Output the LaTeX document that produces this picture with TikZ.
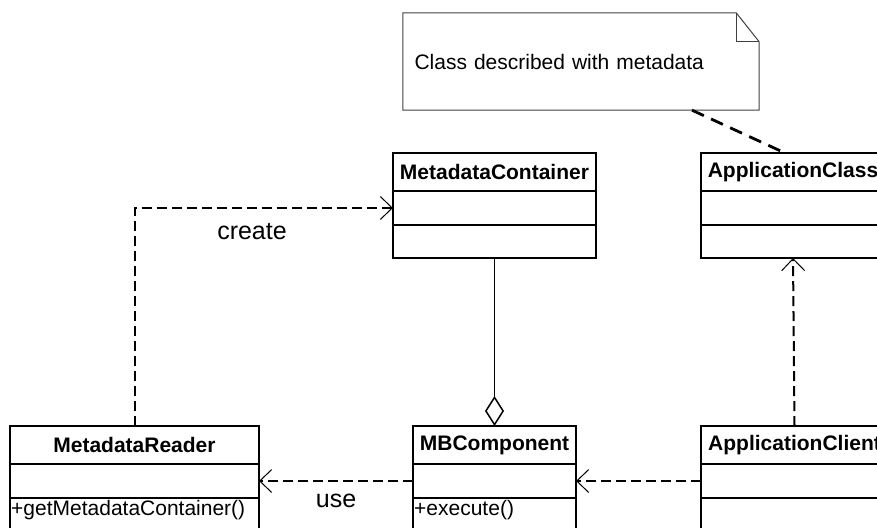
\documentclass[tikz,border=0pt]{standalone}
\usepackage{fontspec}
\setmainfont{Liberation Sans}
\usetikzlibrary{arrows.meta,positioning,calc}
\tikzstyle{dep} = [draw, line width=2pt, dash pattern=on 10pt off 5pt,
  -{Straight Barb[length=12pt,width=23pt,line width=1pt]}]
\tikzstyle{agg} = [draw, line width=1pt,
  -{Diamond[open,length=30pt,width=19pt,line width=1.5pt]}]
\tikzstyle{noteline} = [draw, line width=2.8pt, dash pattern=on 13pt off 8pt]

\begin{document}
\begin{tikzpicture}[
    x=1pt, y=-1pt,
    header/.style={
      draw,
      line width=1.5pt,
      outer sep=0pt,
      inner sep=0pt,
      minimum width=#1,
      minimum height=38pt,
      font=\fontsize{21}{25}\selectfont\bfseries,
    },
    compart/.style={
      draw,
      line width=1.5pt,
      outer sep=0pt,
      inner sep=0pt,
      minimum width=#1,
      minimum height=34pt,
    },
    optext/.style={
      anchor=north west,
      inner xsep=1pt,
      inner ysep=2.5pt,
      font=\fontsize{21}{25}\selectfont,
    },
    notebox/.style={
      minimum width=356pt,
      minimum height=97pt,
      text width=333pt,
      align=left,
      inner xsep=11.5pt,
      font=\fontsize{21}{25}\selectfont,
    },
    lbl/.style={
      inner sep=0pt,
      font=\fontsize{25}{30}\selectfont,
    },
  ]

  \useasboundingbox (0,0) rectangle (877,527);
  \clip (0,0) rectangle (877,527);

  % note
  \node[notebox] (note) at (581,61.5) {Class described with metadata};
  \draw[line width=1pt,black!75] (note.north west)
    -- ($(note.north east)+(-23,0)$) -- ($(note.north east)+(0,29)$)
    -- (note.south east) -- (note.south west) -- cycle;
  \draw[line width=1pt,black!75] ($(note.north east)+(-23,0)$)
    |- ($(note.north east)+(0,29)$);

  % top row
  \node[header=203pt] (mc) at (494.5,172) {MetadataContainer};
  \node[compart=203pt,below=0pt of mc] (mcattr) {};
  \node[compart=203pt,below=0pt of mcattr,minimum height=33pt] (mcops) {};

  \node[header=184pt] (acls) at (793,172) {ApplicationClass};
  \node[compart=184pt,below=0pt of acls] (aclsattr) {};
  \node[compart=184pt,below=0pt of aclsattr,minimum height=33pt] (aclsops) {};

  % bottom row
  \node[header=249pt] (mr) at (134.5,445) {MetadataReader};
  \node[compart=249pt,below=0pt of mr] (mrattr) {};
  \node[compart=249pt,below=0pt of mrattr,minimum height=40pt] (mrops) {};
  \node[optext] (mrop) at (mrops.north west) {+getMetadataContainer()};

  \node[header=163pt] (mbc) at (494.5,445) {MBComponent};
  \node[compart=163pt,below=0pt of mbc] (mbcattr) {};
  \node[compart=163pt,below=0pt of mbcattr,minimum height=40pt] (mbcops) {};
  \node[optext] (mbcop) at (mbcops.north west) {+execute()};

  \node[header=187pt] (ac) at (794.5,445) {ApplicationClient};
  \node[compart=187pt,below=0pt of ac] (acattr) {};
  \node[compart=187pt,below=0pt of acattr,minimum height=40pt] (acops) {};

  % connectors
  \draw[noteline] ($(note.south)+(111,0)$) -- ($(acls.north)+(-8,0)$);
  \draw[agg] (mcops.south) -- (mbc.north);
  \draw[dep] (mr.north) |- (mcattr.west);
  \draw[dep] (mbcattr.west) -- (mrattr.east);
  \draw[dep] (acattr.west) -- (mbcattr.east);
  \draw[dep] (ac.north) -- (aclsops.south);

  \node[lbl] (createlbl) at (252,232) {create};
  \node[lbl] (uselbl) at (336,501) {use};

\end{tikzpicture}
\end{document}
